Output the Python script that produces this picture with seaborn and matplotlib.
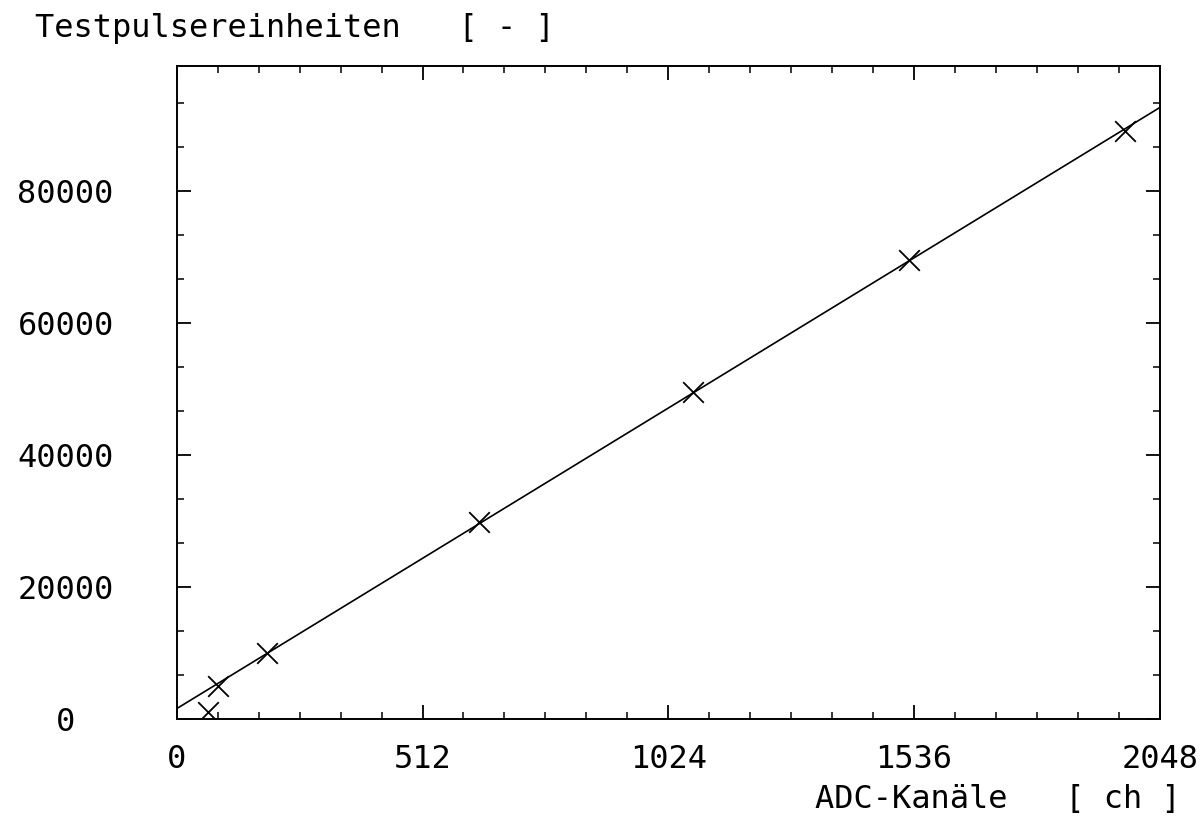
import matplotlib
matplotlib.use("Agg")
import matplotlib.pyplot as plt
import seaborn as sns
import numpy as np
from matplotlib.ticker import MultipleLocator, FixedLocator

# Data
meas_x = [65, 86, 188, 629, 1076, 1525, 1975]
meas_y = [1000, 4900, 10000, 29800, 49500, 69500, 89200]
fit_x = [0, 2048]
fit_y = [1500, 92700]
xticks = [0, 512, 1024, 1536, 2048]
xtick_labels = ["0", "512", "1024", "1536", "2048"]
yticks = [0, 20000, 40000, 60000, 80000]
ytick_labels = ["0", "20000", "40000", "60000", "80000"]

sns.set_theme(style="ticks")
plt.rcParams["font.family"] = ["DejaVu Sans Mono", "DejaVu Sans"]

fig = plt.figure(figsize=(12.02, 8.24), dpi=100)
ax = fig.add_axes([0.147, 0.128, 0.818, 0.792])

sns.lineplot(x=fit_x, y=fit_y, ax=ax, color="black", linewidth=1.2)
sns.scatterplot(x=meas_x, y=meas_y, ax=ax, marker="x", s=220, color="black",
                linewidth=1.3, zorder=3)

ax.set_xlim(0, 2048)
ax.set_ylim(0, 99000)
ax.xaxis.set_major_locator(FixedLocator(xticks))
ax.xaxis.set_minor_locator(MultipleLocator(512 / 6))
ax.yaxis.set_major_locator(FixedLocator(yticks))
ax.yaxis.set_minor_locator(MultipleLocator(20000 / 3))
ax.set_xticklabels(xtick_labels)
ax.set_yticklabels(ytick_labels)

for s in ax.spines.values():
    s.set_linewidth(1.4)
    s.set_color("black")

ax.tick_params(which="both", direction="in", top=True, right=True, colors="black")
ax.tick_params(which="major", length=10, width=1.3)
ax.tick_params(which="minor", length=5, width=1.1)
ax.tick_params(axis="x", which="major", pad=18, labelsize=23)
ax.tick_params(axis="y", which="major", pad=80, labelsize=23)
for lbl in ax.get_yticklabels():
    lbl.set_horizontalalignment("center")

fig.text(0.029, 0.965, "Testpulsereinheiten   [ - ]", fontsize=23,
         ha="left", va="center", color="black")
fig.text(0.982, 0.03, "ADC-Kanäle   [ ch ]", fontsize=23,
         ha="right", va="center", color="black")

fig.savefig("out.png", dpi=100, facecolor="white")
